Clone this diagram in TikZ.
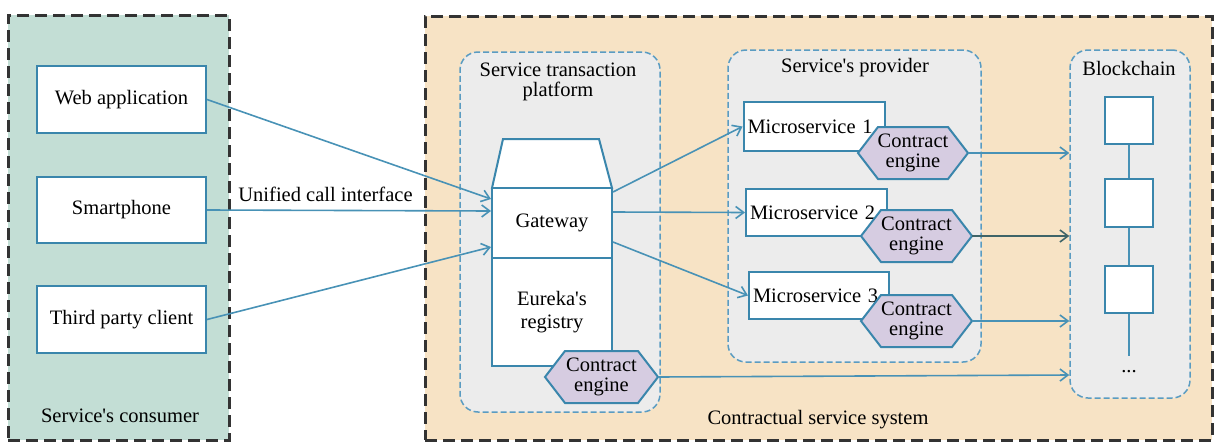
\documentclass[tikz,border=0pt]{standalone}
\usepackage{fontspec}
\setmainfont{Liberation Serif}
\usetikzlibrary{arrows.meta,shadows,calc}
\definecolor{consfill}{RGB}{195,222,213}
\definecolor{sysfill}{RGB}{247,227,197}
\definecolor{contfill}{RGB}{236,236,236}
\definecolor{linec}{RGB}{72,146,182}
\definecolor{boxc}{RGB}{58,134,172}
\definecolor{contc}{RGB}{90,156,194}
\definecolor{hexfill}{RGB}{214,204,225}
\definecolor{darkarr}{RGB}{62,100,104}
\newcommand{\cehex}[4]{%
  \draw[hexst] (#2-#4,#3) -- (#2-#4+20,#3-26) -- (#2+#4-20,#3-26) -- (#2+#4,#3)
    -- (#2+#4-20,#3+26) -- (#2-#4+20,#3+26) -- cycle;
  \node[txt, align=center] (#1) at (#2,#3) {Contract\\engine};
  \coordinate (#1e) at (#2+#4,#3);}
\begin{document}
\begin{tikzpicture}[x=1pt,y=-1pt,
  txt/.style={font=\fontsize{20.5}{20.5}\selectfont, inner sep=0pt},
  outerbox/.style={draw=black!80, line width=3pt, dash pattern=on 12pt off 6pt, inner sep=0pt},
  cont/.style={draw=contc, fill=contfill, line width=1.5pt, dash pattern=on 6pt off 3pt, rounded corners=18pt, inner sep=0pt},
  wbox/.style={draw=boxc, fill=white, line width=2pt, inner sep=0pt, txt,
     drop shadow={shadow xshift=1.2pt, shadow yshift=-1.2pt, fill=black, opacity=0.15}},
  hexst/.style={draw=boxc, fill=hexfill, line width=2pt},
  arr/.style={draw=linec, line width=1.6pt, -{Straight Barb[length=8pt,width=12pt,line width=1.6pt]}},
  chain/.style={draw=linec, line width=1.8pt}
]
\useasboundingbox (0,0) rectangle (1218,442);
% outer regions
\node[outerbox, fill=consfill, minimum width=221pt, minimum height=425pt] (cons) at (118.5,227.5) {};
\node[outerbox, fill=sysfill, minimum width=787pt, minimum height=424pt] (sys) at (818.5,228) {};
\node[txt] (consl) at (120,416) {Service\textquotesingle s consumer};
\node[txt] (sysl) at (818,420) {Contractual service system};
% containers
\node[cont, minimum width=200pt, minimum height=360pt] (stp) at (560,232) {};
\node[cont, minimum width=253pt, minimum height=312pt] (prov) at (854.5,206) {};
\node[cont, minimum width=120pt, minimum height=348pt] (bc) at (1130,224) {};
\node[txt, align=center] (stpl) at (558,82) {Service transaction\\platform};
\node[txt] (provl) at (855,68) {Service\textquotesingle s provider};
\node[txt] (bcl) at (1129,68) {Blockchain};
% consumer boxes
\node[wbox, minimum width=169pt, minimum height=67pt] (web) at (121.5,99.5) {Web application};
\node[wbox, minimum width=169pt, minimum height=66pt] (phone) at (121.5,210) {Smartphone};
\node[wbox, minimum width=169pt, minimum height=67pt] (third) at (121.5,319.5) {Third party client};
% gateway stack
\draw[draw=boxc, fill=white, line width=2pt] (503,139) -- (599,139) -- (612,188) -- (492,188) -- cycle;
\node[wbox, minimum width=120pt, minimum height=70pt] (gw) at (552,223) {Gateway};
\node[wbox, minimum width=120pt, minimum height=108pt, align=center] (eur) at (552,312) {Eureka\textquotesingle s\\[2pt]registry};
% microservices
\node[wbox, minimum width=141pt, minimum height=49pt, text width=133pt, inner xsep=4pt, align=left] (ms1) at (814,126.5) {Microservice 1};
\node[wbox, minimum width=141pt, minimum height=47pt, text width=133pt, inner xsep=4pt, align=left] (ms2) at (816.5,212.5) {Microservice 2};
\node[wbox, minimum width=140pt, minimum height=47pt, text width=132pt, inner xsep=4pt, align=left] (ms3) at (819,295.5) {Microservice 3};
% blockchain
\coordinate (chainend) at (1129,356);
\draw[chain] (1129,120) -- (chainend);
\node[wbox, minimum width=48pt, minimum height=47pt] (b1) at (1129,120.5) {};
\node[wbox, minimum width=48pt, minimum height=48pt] (b2) at (1129,203) {};
\node[wbox, minimum width=48pt, minimum height=47pt] (b3) at (1129,289.5) {};
\node[txt] (dots) at (1129,372) {...};
% contract engines
\cehex{cep}{601.5}{377}{56.5}
\cehex{ce1}{913}{153}{55}
\cehex{ce2}{916.5}{236}{55.5}
\cehex{ce3}{916.5}{321}{55.5}
% label
\node[txt] (uci) at (325.5,194) {Unified call interface};
% arrows
\draw[arr] (web.east) -- ([yshift=24pt]gw.west);
\draw[arr] (phone.east) -- ([yshift=12pt]gw.west);
\draw[arr] (third.east) -- ([yshift=-24pt]gw.west);
\draw[arr] ([yshift=31pt]gw.east) -- (ms1.west);
\draw[arr] ([yshift=11pt]gw.east) -- (ms2.west);
\draw[arr] ([yshift=-19pt]gw.east) -- (ms3.west);
\draw[arr] (ce1e) -- (bc.west |- ce1e);
\draw[arr, draw=darkarr, -{Straight Barb[length=8pt,width=12pt,line width=1.6pt]}] (ce2e) -- (bc.west |- ce2e);
\draw[arr] (ce3e) -- (bc.west |- ce3e);
\draw[arr] (cepe) -- ([yshift=2pt]bc.west |- cepe);
\end{tikzpicture}
\end{document}
